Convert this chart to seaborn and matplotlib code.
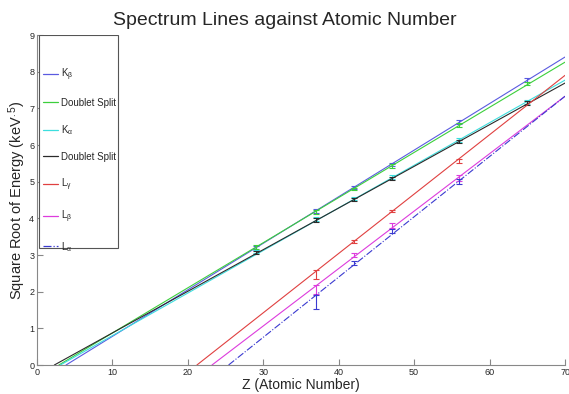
import numpy as np
import pandas as pd
import matplotlib
matplotlib.use('Agg')
import matplotlib.pyplot as plt
from matplotlib.patches import Rectangle
from matplotlib.lines import Line2D
import seaborn as sns

# measured points (Z, sqrt(E)) and error bars
z_k = [29, 37, 42, 47, 56, 65]
z_l = [37, 42, 47, 56]

k_beta = [3.20, 4.20, 4.84, 5.47, 6.62, 7.77]
k_beta_split = [3.22, 4.17, 4.80, 5.42, 6.55, 7.68]
k_alpha = [3.10, 3.98, 4.55, 5.12, 6.14, 7.18]
k_alpha_split = [3.07, 3.96, 4.52, 5.09, 6.10, 7.15]
k_err = [0.05, 0.05, 0.04, 0.05, 0.05, 0.05]

l_gamma = [2.47, 3.38, 4.20, 5.57]
l_beta = [2.07, 3.00, 3.80, 5.10]
l_alpha = [1.72, 2.78, 3.65, 5.00]
l_gamma_err = [0.12, 0.04, 0.04, 0.06]
l_beta_err = [0.12, 0.06, 0.06, 0.07]
l_alpha_err = [0.18, 0.06, 0.06, 0.07]

# fitted lines: x-intercept and value at Z=70
fit_start = [3.85, 2.9, 3.1, 2.3, 21.2, 23.2, 25.4]
fit_end = [8.40, 8.26, 7.77, 7.69, 7.90, 7.33, 7.33]

labels = [r'K$_\beta$', 'Doublet Split', r'K$_\alpha$', 'Doublet Split',
          r'L$_\gamma$', r'L$_\beta$', r'L$_\alpha$']
colors = ['#5a5ae0', '#3ccf3c', '#3cdede', '#2a2a2a', '#e04040', '#dd3cdd', '#3a3ad0']
styles = ['-', '-', '-', '-', '-', '-', '-.']

points = [(z_k, k_beta, k_err), (z_k, k_beta_split, k_err), (z_k, k_alpha, k_err),
          (z_k, k_alpha_split, k_err), (z_l, l_gamma, l_gamma_err),
          (z_l, l_beta, l_beta_err), (z_l, l_alpha, l_alpha_err)]

sns.set_style('ticks')
plt.rcParams['font.family'] = ['Liberation Sans', 'DejaVu Sans']
plt.rcParams['mathtext.fontset'] = 'custom'
plt.rcParams['mathtext.rm'] = 'Liberation Sans'
plt.rcParams['mathtext.it'] = 'Liberation Sans'

fig = plt.figure(figsize=(5.69, 3.94), dpi=100)
ax = fig.add_axes([0.065, 0.0736, 0.928, 0.8375])

for i in range(7):
    df = pd.DataFrame({'Z': [fit_start[i], 70], 'E': [0, fit_end[i]]})
    sns.lineplot(data=df, x='Z', y='E', ax=ax, color=colors[i], linestyle=styles[i],
                 linewidth=0.8, legend=False)
    zz, yy, ee = points[i]
    ax.errorbar(zz, yy, yerr=ee, fmt='none', ecolor=colors[i], elinewidth=0.8,
                capsize=2, capthick=0.8)

ax.set_xlim(0, 70)
ax.set_ylim(0, 9)
ax.set_xticks(range(0, 71, 10))
ax.set_yticks(range(0, 10))
ax.tick_params(direction='in', labelsize=6.5, length=4, color='#888888', pad=2)
for s in ['left', 'bottom']:
    ax.spines[s].set_color('#888888')
sns.despine(ax=ax)

ax.set_xlabel('Z (Atomic Number)', fontsize=10, labelpad=1)
ax.set_ylabel(r'Square Root of Energy (keV$^{.5}$)', fontsize=10.5, labelpad=1)
fig.suptitle('Spectrum Lines against Atomic Number', fontsize=14, y=0.97)

# legend box drawn separately, entries placed inside it
ax.add_patch(Rectangle((0.004, 0.355), 0.149, 0.645, transform=ax.transAxes,
                       fill=True, facecolor='white', edgecolor='#555555',
                       linewidth=0.8, zorder=4))
handles = [Line2D([], [], color=colors[i], linestyle=styles[i], linewidth=0.9)
           for i in range(7)]
leg = ax.legend(handles, labels, loc='upper left', bbox_to_anchor=(0.011, 0.905),
                fontsize=7, labelspacing=1.55, handlelength=1.55,
                handletextpad=0.3, borderpad=0, borderaxespad=0, frameon=False)
leg.set_zorder(5)

fig.savefig('out.png', dpi=100)
